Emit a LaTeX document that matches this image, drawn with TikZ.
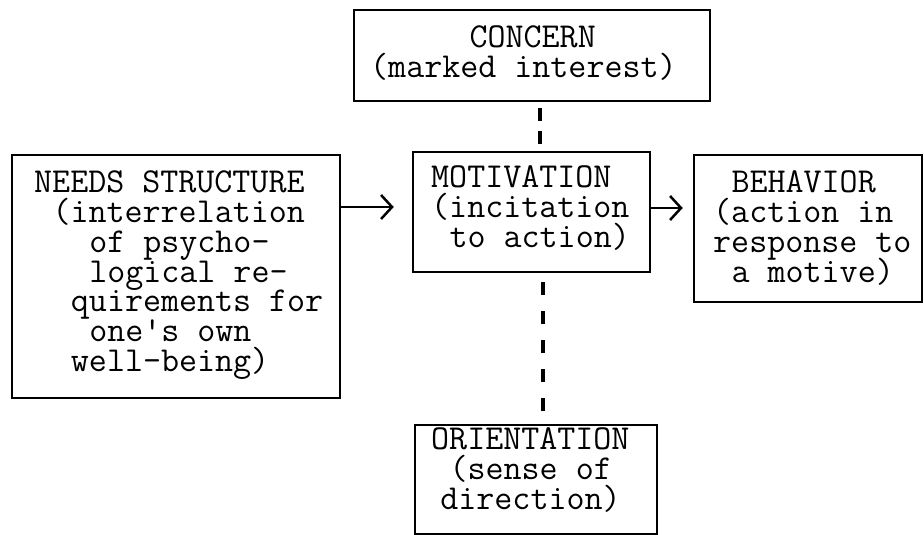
\documentclass[tikz,border=0pt]{standalone}
\usetikzlibrary{arrows.meta,calc}
\newcommand\ind[1]{\hspace*{#1em}}
\newcommand\blk[1]{\vtop{\baselineskip=29.7pt\lineskiplimit=-\maxdimen #1}}
\tikzset{
  box/.style={draw, line width=2.5pt, inner sep=0pt},
  txt/.style={anchor=base west, inner sep=0pt, font=\fontsize{35}{29.7}\selectfont\ttfamily},
  arr/.style={line width=2.5pt, -{Straight Barb[length=11pt,width=24pt]}},
  dashline/.style={line width=3.5pt},
}
\begin{document}
\begin{tikzpicture}[x=1pt,y=1pt]
\fill[white] (0,0) rectangle (924,535);
\useasboundingbox (0,0) rectangle (924,535);
% boxes
\node[box, minimum width=356pt, minimum height=91pt] (concern) at (532,479.5) {};
\node[box, minimum width=328pt, minimum height=243pt] (needs) at (176,258.5) {};
\node[box, minimum width=237pt, minimum height=120pt] (motivation) at (531.5,323) {};
\node[box, minimum width=228pt, minimum height=147pt] (behavior) at (808,306.5) {};
\node[box, minimum width=242pt, minimum height=109pt] (orientation) at (536,55.5) {};
% texts
\node[txt] (concernT) at (370,487) {\blk{\hbox{\ind{2.84}CONCERN}\hbox{(marked interest)}}};
\node[txt] (needsT) at (34,342) {\blk{%
  \hbox{NEEDS STRUCTURE}%
  \hbox{\ind{0.525}(interrelation}%
  \hbox{\ind{1.575}of psycho-}%
  \hbox{\ind{1.575}logical re-}%
  \hbox{\ind{1.05}quirements for}%
  \hbox{\ind{1.575}one's own}%
  \hbox{\ind{1.05}well-being)}}};
\node[txt] (motivationT) at (431,347) {\blk{%
  \hbox{MOTIVATION}%
  \hbox{(incitation}%
  \hbox{\ind{0.525}to action)}}};
\node[txt] (behaviorT) at (713,342) {\blk{%
  \hbox{\ind{0.525}BEHAVIOR}%
  \hbox{(action in}%
  \hbox{response to}%
  \hbox{\ind{0.525}a motive)}}};
\node[txt] (orientationT) at (431,85) {\blk{%
  \hbox{ORIENTATION}%
  \hbox{\ind{0.525}(sense of}%
  \hbox{\ind{0.2625}direction)}}};
% arrows
\draw[arr, shorten >=18pt] ($(needs.east |- motivation.west)+(0,5)$) -- ($(motivation.west)+(0,5)$);
\draw[arr, shorten >=10pt] ($(motivation.east)+(0,4)$) -- ($(motivation.east -| behavior.west)+(0,4)$);
% dashed links
\coordinate (d1) at (540,0);
\coordinate (d2) at (543,0);
\draw[dashline, dash pattern=on 13pt off 10pt, shorten <=6pt, shorten >=6pt] (concern.south -| d1) -- (motivation.north -| d1);
\draw[dashline, dash pattern=on 13pt off 16pt, shorten <=9pt, shorten >=12pt] (motivation.south -| d2) -- (orientation.north -| d2);
\end{tikzpicture}
\end{document}
